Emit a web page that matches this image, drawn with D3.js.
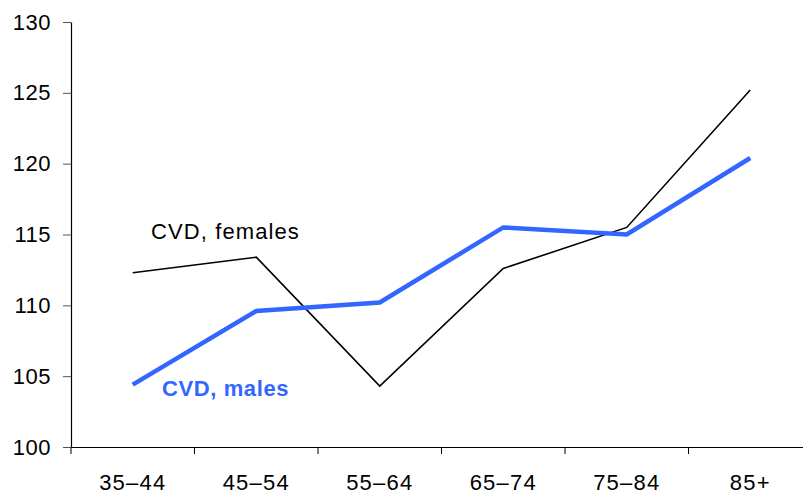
<!DOCTYPE html>
<html>
<head>
<meta charset="utf-8">
<script src="https://cdn.jsdelivr.net/npm/d3@7"></script>
<style>
  body { margin: 0; background: #fff; }
  text { font-family: "Liberation Sans", Arial, sans-serif; }
</style>
</head>
<body>
<script>
// age groups and index values
var ageGroups = ["35–44", "45–54", "55–64", "65–74", "75–84", "85+"];
var females = [112.3, 113.4, 104.3, 112.6, 115.5, 125.2];
var males = [104.4, 109.6, 110.2, 115.5, 115.0, 120.4];
var yTicks = [100, 105, 110, 115, 120, 125, 130];

var width = 803, height = 495;
var margin = {top: 22, left: 71, bottom: 48};

var svg = d3.select("body").append("svg")
    .attr("width", width)
    .attr("height", height);

// x: 6 bands of equal width, last one runs past the right edge
var x = d3.scaleBand()
    .domain(ageGroups)
    .range([margin.left, 812])
    .padding(0);

var y = d3.scaleLinear()
    .domain([100, 130])
    .range([height - margin.bottom, margin.top]);

var y0 = y(100);

// y axis
var yAxis = svg.append("g")
    .attr("transform", "translate(" + margin.left + ",0)")
    .call(d3.axisLeft(y).tickValues(yTicks).tickSize(8).tickSizeOuter(0).tickPadding(12));
yAxis.select(".domain").attr("stroke", "#000").attr("stroke-width", 1.2);
yAxis.selectAll(".tick line").attr("stroke", "#555");
yAxis.selectAll("text").attr("font-size", 22).attr("fill", "#000")
    .attr("letter-spacing", 0.5)
    .style("font-family", "Liberation Sans, Arial, sans-serif");

// x axis labels (no ticks at centres)
var xAxis = svg.append("g")
    .attr("transform", "translate(0," + y0 + ")")
    .call(d3.axisBottom(x).tickSize(0).tickSizeOuter(0).tickPadding(27));
xAxis.select(".domain").attr("stroke", "#000").attr("stroke-width", 1.2);
xAxis.selectAll("text").attr("font-size", 22).attr("fill", "#000")
    .attr("letter-spacing", 1.2)
    .style("font-family", "Liberation Sans, Arial, sans-serif");

// tick marks at band boundaries
svg.append("g").selectAll("line")
    .data(ageGroups)
  .enter().append("line")
    .attr("x1", function(d) { return x(d); })
    .attr("x2", function(d) { return x(d); })
    .attr("y1", y0)
    .attr("y2", y0 + 7)
    .attr("stroke", "#000")
    .attr("stroke-width", 1);

var line = d3.line()
    .x(function(d, i) { return x(ageGroups[i]) + x.bandwidth() / 2; })
    .y(function(d) { return y(d); });

svg.append("path")
    .datum(females)
    .attr("fill", "none")
    .attr("stroke", "#000")
    .attr("stroke-width", 1.6)
    .attr("d", line);

svg.append("path")
    .datum(males)
    .attr("fill", "none")
    .attr("stroke", "#3366ff")
    .attr("stroke-width", 4.5)
    .attr("d", line);

// series labels
svg.append("text")
    .attr("x", 151)
    .attr("y", 239)
    .attr("font-size", 22)
    .attr("letter-spacing", 1.1)
    .attr("fill", "#000")
    .text("CVD, females");

svg.append("text")
    .attr("x", 162)
    .attr("y", 396)
    .attr("font-size", 22)
    .attr("font-weight", "bold")
    .attr("letter-spacing", 0.6)
    .attr("fill", "#3366ff")
    .text("CVD, males");
</script>
</body>
</html>
